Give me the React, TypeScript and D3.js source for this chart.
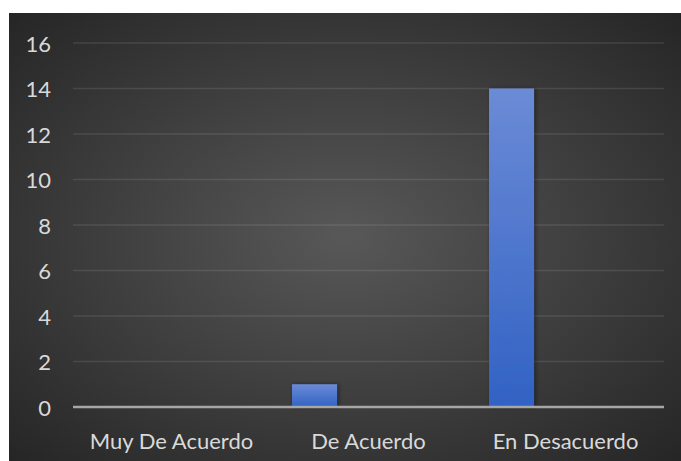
import React from "react";
import * as d3 from "d3";

const categories = ["Muy De Acuerdo", "De Acuerdo", "En Desacuerdo"];
const seriesNames = ["Serie 1", "Serie 2"];
const serie1 = [0, 1, 14];
const serie2 = [0, 0, 0];
const yTicks = [0, 2, 4, 6, 8, 10, 12, 14, 16];

const W = 681;
const H = 461;
const bg = { x: 9, y: 13 };
const plot = { left: 73, right: 664, top: 43, bottom: 407 };

export default function App() {
  const x = d3.scaleBand<string>().domain(categories).range([plot.left, plot.right]).padding(0);
  const xs = d3
    .scaleBand<string>()
    .domain(seriesNames)
    .range([0, x.bandwidth()])
    .paddingInner(0.583)
    .paddingOuter(0.204);
  const y = d3.scaleLinear().domain([0, 16]).range([plot.bottom, plot.top]);
  const series = [serie1, serie2];
  const font = "Lato, 'Open Sans', sans-serif";

  return (
    <div style={{ position: "absolute", left: 0, top: 0 }}>
      <svg width={W} height={H} style={{ display: "block" }}>
        <defs>
          <radialGradient id="bgGrad" cx="50%" cy="50%" r="70%">
            <stop offset="0%" stopColor="#585858" />
            <stop offset="100%" stopColor="#262626" />
          </radialGradient>
          <linearGradient id="barGrad" x1="0" y1="0" x2="0" y2="1">
            <stop offset="0%" stopColor="#6b8bd6" />
            <stop offset="100%" stopColor="#3262c4" />
          </linearGradient>
          <filter id="shadow" x="-30%" y="-30%" width="160%" height="160%">
            <feDropShadow dx="1.5" dy="0" stdDeviation="2" floodColor="#000" floodOpacity="0.45" />
          </filter>
        </defs>
        <rect x={0} y={0} width={W} height={H} fill="#ffffff" />
        <rect x={bg.x} y={bg.y} width={W - bg.x} height={H - bg.y} fill="url(#bgGrad)" />
        {yTicks.map((t) =>
          t === 0 ? null : (
            <line
              key={"g" + t}
              x1={plot.left}
              x2={plot.right}
              y1={y(t)}
              y2={y(t)}
              stroke="#ffffff"
              strokeOpacity={0.1}
              strokeWidth={1.5}
            />
          )
        )}
        {yTicks.map((t) => (
          <text
            key={"t" + t}
            x={51}
            y={y(t)}
            textAnchor="end"
            dominantBaseline="central"
            fill="#d9d9d9"
            fontFamily={font}
            fontSize={22}
          >
            {t}
          </text>
        ))}
        {series.map((vals, si) =>
          vals.map((v, i) =>
            v > 0 ? (
              <rect
                key={si + "-" + i}
                x={(x(categories[i]) as number) + (xs(seriesNames[si]) as number)}
                y={y(v)}
                width={xs.bandwidth()}
                height={y(0) - y(v)}
                fill="url(#barGrad)"
                filter="url(#shadow)"
              />
            ) : null
          )
        )}
        <line x1={plot.left} x2={plot.right} y1={y(0)} y2={y(0)} stroke="#a6a6a6" strokeWidth={2.5} />
        {categories.map((c) => (
          <text
            key={c}
            x={(x(c) as number) + x.bandwidth() / 2}
            y={440}
            textAnchor="middle"
            dominantBaseline="central"
            fill="#d9d9d9"
            fontFamily={font}
            fontSize={22}
          >
            {c}
          </text>
        ))}
      </svg>
    </div>
  );
}
